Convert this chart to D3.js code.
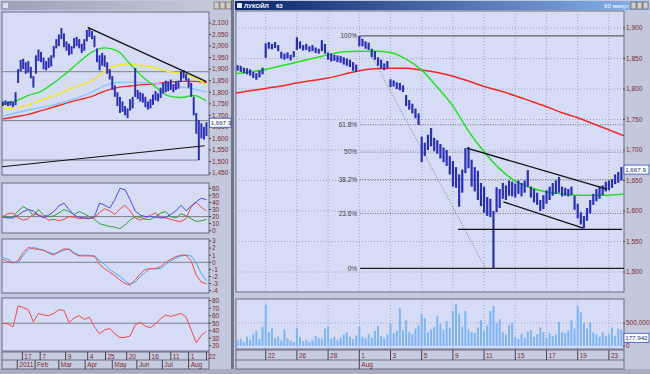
<!DOCTYPE html>
<html>
<head>
<meta charset="utf-8">
<script src="https://cdn.jsdelivr.net/npm/d3@7"></script>
<style>
body { margin: 0; background: #c4c8dc; }
svg { display: block; font-family: "Liberation Sans", Arial, sans-serif; }
.lbl { font-size: 6.5px; fill: #7a2a2a; }
.fib { font-size: 6.5px; fill: #404040; }
</style>
</head>
<body>
<script>
// ---------- right chart (60 min, 5 bars per trading day, day 0 = 22 Jul) ----------
var rHigh = [1839,1838,1835,1834,1832,1828,1826,1830,1835,
  1875,1877,1874,1877,1872,1861,1858,1860,1856,1862,
  1885,1878,1872,1874,1870,1872,1868,1866,1880,1874,
  1860,1858,1856,1855,1854,1852,1850,1848,1844,1840,
  1887,1882,1878,1876,1866,1862,1852,1848,1842,1846,
  1816,1814,1811,1810,1806,1790,1782,1776,1768,1760,
  1722,1712,1725,1736,1720,1716,1710,1704,1700,1690,
  1682,1672,1660,1668,1703,1705,1684,1672,1666,1646,
  1640,1623,1620,1600,1639,1636,1646,1642,1650,1648,
  1645,1650,1646,1650,1667,1640,1636,1630,1618,1626,
  1634,1640,1646,1650,1656,1640,1638,1636,1640,1625,
  1612,1598,1592,1605,1618,1628,1636,1640,1642,1648,
  1650,1652,1660,1664,1672];
var rLow = [1830,1828,1826,1824,1822,1818,1815,1819,1824,
  1851,1866,1865,1867,1862,1850,1848,1850,1847,1852,
  1864,1866,1863,1864,1861,1862,1859,1858,1862,1858,
  1848,1845,1846,1844,1843,1840,1838,1836,1830,1828,
  1870,1870,1866,1864,1852,1848,1838,1834,1831,1834,
  1803,1804,1800,1798,1795,1772,1766,1760,1752,1741,
  1680,1690,1700,1706,1698,1694,1686,1680,1674,1660,
  1640,1638,1607,1630,1662,1670,1640,1632,1618,1608,
  1597,1592,1590,1506,1598,1605,1620,1618,1625,1624,
  1622,1628,1624,1630,1640,1622,1614,1610,1600,1603,
  1612,1618,1625,1628,1630,1624,1625,1624,1626,1602,
  1588,1578,1572,1584,1596,1610,1616,1620,1626,1632,
  1634,1638,1644,1646,1650];
// volume, thousands of shares
var rVolume = [120,160,90,200,140,260,330,150,420,900,
  300,380,180,210,120,360,170,120,90,390,
  200,110,140,90,130,220,170,160,380,420,
  160,200,130,180,250,300,200,150,230,430,
  200,170,260,180,330,430,220,170,250,500,
  280,330,820,350,560,300,260,380,450,690,
  600,300,360,420,650,480,350,540,400,760,
  910,700,420,760,360,300,280,400,560,330,
  450,760,870,500,580,300,250,450,500,200,
  150,260,180,310,350,200,260,400,300,180,
  280,220,250,520,300,280,340,560,380,870,
  730,500,380,520,300,250,200,300,220,260,
  400,220,380,360];
// moving averages, one value per trading day from day -2 to day 23
var rMaGreen = [1825,1828,1832,1838,1844,1850,1856,1861,1862,1862,1860,1849,1831,
  1803,1772,1731,1697,1669,1649,1638,1631,1628,1626,1626,1626,1628];
var rMaRed = [1793,1797,1801,1805,1810,1814,1818,1824,1830,1833,1834,1834,1831,
  1827,1821,1813,1804,1797,1789,1780,1771,1761,1753,1743,1733,1723];
var rTickDays = [0,2,4,6,8,10,12,14,16,18,20,22];
var rTickLabels = ["22","26","28","1","3","5","9","11","15","17","19","23"];
var rMonthDays = [6];
var rMonthLabels = ["Aug"];
var fibPct = [100, 61.8, 50, 38.2, 23.6, 0];
var fibTop = 1887, fibBottom = 1506;
var rTrendLines = [
  [[12.9, 1703], [21.88, 1636]],
  [[15.23, 1615], [20.36, 1572]],
  [[12.33, 1570], [22.84, 1570]]
];
var rFibDiagonal = [[6.1, 1887], [14.1, 1506]];
var lastPrice = 1667.9;
var lastVolume = 177942;

// ---------- left chart (daily, one bar every 3 days from 25 Dec 2010) ----------
var lHigh = [1760,1765,1760,1762,1758,1800,1900,1940,1945,1930,
  1935,1910,1870,1960,1985,1975,1950,1935,1950,1960,
  2000,2030,2050,2078,2055,2020,2010,2000,2035,2040,
  2030,2010,2030,2070,2078,2065,2045,1990,1960,1970,
  1960,1930,1900,1870,1830,1800,1780,1760,1740,1730,
  1770,1780,1905,1810,1800,1795,1780,1760,1770,1790,
  1805,1795,1820,1840,1850,1845,1855,1835,1845,1850,
  1890,1896,1880,1860,1840,1780,1710,1680,1665,1650,
  1670];
var lLow = [1740,1744,1740,1742,1736,1744,1840,1890,1900,1880,
  1885,1860,1820,1880,1935,1930,1900,1895,1905,1912,
  1950,1990,2000,2030,1995,1980,1960,1965,1990,2000,
  1990,1970,1980,2020,2040,2030,1995,1930,1895,1915,
  1910,1880,1855,1810,1780,1740,1710,1715,1700,1688,
  1720,1730,1780,1770,1760,1755,1735,1725,1730,1745,
  1765,1760,1775,1795,1800,1805,1810,1800,1810,1815,
  1845,1860,1850,1820,1780,1700,1620,1506,1600,1595,
  1610];
// moving averages every 15 days
var lMaGreen  = [1749,1762,1786,1804,1840,1883,1931,1974,1992,1979,1922,1866,1823,1784,1777,1786,1762];
var lMaYellow = [1727,1734,1745,1766,1784,1808,1829,1849,1890,1917,1922,1916,1905,1890,1881,1866,1831];
var lMaBlue   = [1697,1710,1723,1734,1745,1760,1779,1800,1829,1842,1844,1841,1838,1832,1824,1814,1801];
var lMaRed    = [1684,1694,1704,1720,1736,1753,1768,1782,1805,1820,1827,1833,1837,1844,1847,1847,1842];
// indicators every 6 days
var diPlus  = [19,18,18,22,27,30,28,22,18,22,27,35,39,30,22,19,18,17,20,39,
  36,32,44,60,58,44,28,22,20,20,19,18,19,23,28,36,28,35,41,46,44];
var diMinus = [20,24,25,18,15,17,24,22,20,15,16,14,16,20,19,17,18,18,18,26,
  31,28,23,31,36,28,18,15,18,22,25,19,18,16,14,13,17,34,40,33,28];
var adx     = [20,19,20,28,34,30,21,30,22,20,21,25,30,27,23,27,24,20,16,10,
  8,6,5,3,8,15,20,19,16,16,20,25,27,20,18,24,21,17,13,14,16];
var macd    = [0.4,0.1,-0.1,0.2,1.4,2.1,1.9,1.8,1.7,1.3,1.0,1.5,1.9,1.8,1.2,0.9,0.9,0.9,0.9,-0.3,
  -0.9,-1.4,-1.9,-2.5,-3.0,-3.2,-2.5,-1.6,-1.0,-0.9,-0.9,-0.6,0.0,0.4,0.8,1.0,1.0,0.2,-1.8,-2.8,-3.0];
var macdSignal = [0.7,0.4,0.0,-0.1,1.0,1.8,2.1,1.9,1.7,1.4,1.2,1.4,1.7,1.9,1.4,1.0,1.0,1.0,0.8,0.3,
  -0.3,-1.0,-1.5,-2.0,-2.6,-3.1,-2.8,-2.0,-1.4,-0.9,-0.9,-0.9,-0.3,0.2,0.6,0.9,1.0,0.9,-0.1,-1.6,-2.6];
var rsi     = [50,49,45,73,71,68,52,63,61,60,63,68,67,51,57,60,55,58,45,36,
  41,43,36,31,31,33,48,51,46,44,49,56,61,59,61,63,58,41,24,34,39];
var lDayTicks = ["2011-01-17","2011-02-07","2011-03-09","2011-04-04","2011-04-25",
  "2011-05-20","2011-06-16","2011-07-11","2011-08-01","2011-08-22"];
var lDayLabels = ["17","7","9","4","25","20","16","11","1","22"];
var lMonthTicks = ["2011-01-11","2011-02-01","2011-03-01","2011-04-01","2011-05-03",
  "2011-06-01","2011-07-01","2011-08-01"];
var lMonthLabels = ["2011","Feb","Mar","Apr","May","Jun","Jul","Aug"];
var lTrendLines = [
  [["2011-04-04", 2081], ["2011-08-22", 1846]],
  [["2010-12-24", 1477], ["2011-08-20", 1568]]
];
var lLevels = [[1889, "2010-12-24", "2011-08-25"], [1677, "2010-12-24", "2011-08-25"],
  [1506, "2010-12-24", "2011-08-13"]];

// ---------- setup ----------
var parse = d3.timeParse("%Y-%m-%d");
var lStart = new Date(2010, 11, 25);
var fmt = d3.format(",");

var svg = d3.select("body").append("svg")
            .attr("width", 650)
            .attr("height", 374);

var paneFill = "#d6dcf6";
var frameCol = "#6a6a80";

// windows chrome
svg.append("rect").attr("x", 0).attr("y", 0).attr("width", 650).attr("height", 374).attr("fill", "#c4c8dc");
svg.append("rect").attr("x", 231).attr("y", 0).attr("width", 3).attr("height", 374).attr("fill", "#70748c");
svg.append("rect").attr("x", 0).attr("y", 369).attr("width", 650).attr("height", 5).attr("fill", "#a8acc0");

var defs = svg.append("defs");
var grad = defs.append("linearGradient").attr("id", "titleGrad");
grad.append("stop").attr("offset", "0%").attr("stop-color", "#0a246a");
grad.append("stop").attr("offset", "100%").attr("stop-color", "#8ab4ec");
var grad2 = defs.append("linearGradient").attr("id", "titleGrey");
grad2.append("stop").attr("offset", "0%").attr("stop-color", "#9ca0b8");
grad2.append("stop").attr("offset", "100%").attr("stop-color", "#c8ccdc");

svg.append("rect").attr("x", 1).attr("y", 1).attr("width", 229).attr("height", 9).attr("fill", "url(#titleGrey)");
svg.append("rect").attr("x", 235).attr("y", 1).attr("width", 414).attr("height", 9).attr("fill", "url(#titleGrad)");
svg.append("rect").attr("x", 3).attr("y", 3).attr("width", 5).attr("height", 5).attr("fill", "#e0e0e8");
svg.append("rect").attr("x", 237).attr("y", 3).attr("width", 5).attr("height", 5).attr("fill", "#e8e8f0");
svg.append("text").attr("x", 244).attr("y", 8).attr("font-size", "6px").attr("font-weight", "bold")
   .attr("fill", "#ffffff").text("ЛУКОЙЛ");
svg.append("text").attr("x", 276).attr("y", 8).attr("font-size", "6px").attr("font-weight", "bold")
   .attr("fill", "#ffffff").text("63");
svg.append("text").attr("x", 629).attr("y", 8).attr("font-size", "6px").attr("text-anchor", "end")
   .attr("fill", "#ffffff").text("60 минут");
[214, 220, 226, 631, 637, 643].forEach(function(bx) {
  svg.append("rect").attr("x", bx).attr("y", 2).attr("width", 5).attr("height", 7)
     .attr("fill", "#d4d0c8").attr("stroke", "#404040").attr("stroke-width", 0.5);
});

function pane(x, y, w, h, id) {
  svg.append("rect").attr("x", x).attr("y", y).attr("width", w).attr("height", h)
     .attr("fill", paneFill).attr("stroke", frameCol).attr("stroke-width", 1);
  defs.append("clipPath").attr("id", id)
      .append("rect").attr("x", x).attr("y", y).attr("width", w).attr("height", h);
  return svg.append("g").attr("clip-path", "url(#" + id + ")");
}

function axisLabels(scale, values, x, format) {
  values.forEach(function(v) {
    svg.append("line").attr("x1", x - 3).attr("x2", x - 1)
       .attr("y1", scale(v)).attr("y2", scale(v)).attr("stroke", "#404050");
    svg.append("text").attr("class", "lbl").attr("x", x).attr("y", scale(v) + 2.3)
       .text(format ? format(v) : v);
  });
}

function valueBox(x, y, w, text) {
  svg.append("rect").attr("x", x).attr("y", y - 4.5).attr("width", w).attr("height", 9)
     .attr("fill", "#ffffff").attr("stroke", "#3050c0").attr("stroke-width", 0.8);
  svg.append("text").attr("x", x + 1.2).attr("y", y + 2.3).attr("font-size", "6.2px")
     .attr("fill", "#203080").text(text);
}

var line = d3.line().x(d => d[0]).y(d => d[1]);

// ================= RIGHT WINDOW =================
var xR = d3.scaleLinear().domain([-1.84, 22.84]).range([237, 622]);
var yR = d3.scaleLinear().domain([1500, 1900]).range([272, 28]);
var yV = d3.scaleLinear().domain([0, 500000]).range([346, 323]);

var rMain = pane(236, 11, 388, 281, "clipRmain");

// grid
rTickDays.forEach(function(d) {
  rMain.append("line").attr("x1", xR(d)).attr("x2", xR(d)).attr("y1", 11).attr("y2", 292)
       .attr("stroke", "#9ea4c4").attr("stroke-dasharray", "1,2");
});
d3.range(1500, 1901, 50).forEach(function(p) {
  rMain.append("line").attr("x1", 236).attr("x2", 624).attr("y1", yR(p)).attr("y2", yR(p))
       .attr("stroke", "#9ea4c4").attr("stroke-dasharray", "1,2");
});

// fibonacci levels
var fibStart = 6.05;
fibPct.forEach(function(f) {
  var p = fibBottom + (fibTop - fibBottom) * f / 100;
  var solid = (f === 100 || f === 0);
  rMain.append("line").attr("x1", xR(fibStart)).attr("x2", 624)
       .attr("y1", yR(p)).attr("y2", yR(p))
       .attr("stroke", solid ? (f === 0 ? "#202020" : "#606060") : "#707070")
       .attr("stroke-width", solid ? 1.3 : 1)
       .attr("stroke-dasharray", solid ? null : "1,1.5");
  svg.append("text").attr("class", "fib").attr("text-anchor", "end")
     .attr("x", xR(fibStart) - 3).attr("y", yR(p) + 2.3)
     .text((f === 100 || f === 50 || f === 0 ? f : f.toFixed(1)) + "%");
});
rMain.append("path")
     .attr("d", line(rFibDiagonal.map(d => [xR(d[0]), yR(d[1])])))
     .attr("stroke", "#808080").attr("stroke-dasharray", "1,1.5").attr("fill", "none");

// moving averages
rMain.append("path")
     .attr("d", d3.line().curve(d3.curveMonotoneX)(rMaRed.map((v, j) => [xR(j - 2), yR(v)])))
     .attr("stroke", "#f02828").attr("stroke-width", 1.5).attr("fill", "none");
rMain.append("path")
     .attr("d", d3.line().curve(d3.curveMonotoneX)(rMaGreen.map((v, j) => [xR(j - 2), yR(v)])))
     .attr("stroke", "#22e022").attr("stroke-width", 1.5).attr("fill", "none");

// price bars
rMain.selectAll("line.bar")
     .data(rHigh)
     .enter()
     .append("line")
     .attr("x1", (d, i) => xR(-1.8 + 0.2 * i))
     .attr("x2", (d, i) => xR(-1.8 + 0.2 * i))
     .attr("y1", d => yR(d))
     .attr("y2", (d, i) => yR(rLow[i]))
     .attr("stroke", "#2b2fb8")
     .attr("stroke-width", 2.2);

// trend lines
rTrendLines.forEach(function(t) {
  rMain.append("path").attr("d", line(t.map(d => [xR(d[0]), yR(d[1])])))
       .attr("stroke", "#101010").attr("stroke-width", 1.3).attr("fill", "none");
});

axisLabels(yR, d3.range(1500, 1901, 50), 626, fmt);
valueBox(624, yR(lastPrice), 25, d3.format(",.1f")(lastPrice));

// volume pane
var rVol = pane(236, 299, 388, 50, "clipRvol");
rTickDays.forEach(function(d) {
  rVol.append("line").attr("x1", xR(d)).attr("x2", xR(d)).attr("y1", 299).attr("y2", 349)
      .attr("stroke", "#9ea4c4").attr("stroke-dasharray", "1,2");
});
rVol.append("line").attr("x1", 236).attr("x2", 624).attr("y1", yV(500000)).attr("y2", yV(500000))
    .attr("stroke", "#9ea4c4").attr("stroke-dasharray", "1,2");
rVol.selectAll("line.vol")
    .data(rVolume)
    .enter()
    .append("line")
    .attr("x1", (d, i) => xR(-1.8 + 0.2 * i))
    .attr("x2", (d, i) => xR(-1.8 + 0.2 * i))
    .attr("y1", yV(0))
    .attr("y2", d => yV(d * 1000))
    .attr("stroke", "#7cb4f6")
    .attr("stroke-width", 2);
axisLabels(yV, [0, 500000], 626, fmt);
valueBox(624, yV(lastVolume), 25, fmt(lastVolume));

// right date axis
svg.append("rect").attr("x", 236).attr("y", 350).attr("width", 388).attr("height", 19)
   .attr("fill", "#c8cce0").attr("stroke", frameCol);
svg.append("line").attr("x1", 236).attr("x2", 624).attr("y1", 360).attr("y2", 360).attr("stroke", frameCol);
rTickDays.forEach(function(d, i) {
  svg.append("line").attr("x1", xR(d)).attr("x2", xR(d)).attr("y1", 350).attr("y2", 360).attr("stroke", "#404050");
  svg.append("text").attr("class", "lbl").attr("x", xR(d) + 2).attr("y", 358).text(rTickLabels[i]);
});
rMonthDays.forEach(function(d, i) {
  svg.append("line").attr("x1", xR(d)).attr("x2", xR(d)).attr("y1", 360).attr("y2", 369).attr("stroke", "#404050");
  svg.append("text").attr("class", "lbl").attr("x", xR(d) + 2).attr("y", 367).text(rMonthLabels[i]);
});

// ================= LEFT WINDOW =================
var xL = d3.scaleTime().domain([new Date(2010, 11, 24), new Date(2011, 7, 25)]).range([2, 209]);
var yL = d3.scaleLinear().domain([1450, 2100]).range([173, 23]);
var yDI = d3.scaleLinear().domain([0, 60]).range([230.7, 188.3]);
var yM = d3.scaleLinear().domain([-4, 3]).range([290.7, 241]);
var yRSI = d3.scaleLinear().domain([20, 80]).range([345.7, 300.7]);

var lMain = pane(2, 12, 207, 163, "clipLmain");

lLevels.forEach(function(l) {
  lMain.append("line").attr("x1", xL(parse(l[1]))).attr("x2", xL(parse(l[2])))
       .attr("y1", yL(l[0])).attr("y2", yL(l[0]))
       .attr("stroke", "#808088").attr("stroke-width", 1);
});

var maDate = j => d3.timeDay.offset(lStart, 15 * j);
[[lMaRed, "#f02828"], [lMaBlue, "#8cc4ff"], [lMaYellow, "#f4e81c"], [lMaGreen, "#22e022"]].forEach(function(m) {
  lMain.append("path")
       .attr("d", d3.line().curve(d3.curveMonotoneX)(m[0].map((v, j) => [xL(maDate(j)), yL(v)])))
       .attr("stroke", m[1]).attr("stroke-width", 1.4).attr("fill", "none");
});

lMain.selectAll("line.bar")
     .data(lHigh)
     .enter()
     .append("line")
     .attr("x1", (d, i) => xL(d3.timeDay.offset(lStart, 3 * i)))
     .attr("x2", (d, i) => xL(d3.timeDay.offset(lStart, 3 * i)))
     .attr("y1", d => yL(d))
     .attr("y2", (d, i) => yL(lLow[i]))
     .attr("stroke", "#2b2fb8")
     .attr("stroke-width", 2);

lTrendLines.forEach(function(t) {
  lMain.append("path").attr("d", line(t.map(d => [xL(parse(d[0])), yL(d[1])])))
       .attr("stroke", "#101010").attr("stroke-width", 1.2).attr("fill", "none");
});

axisLabels(yL, d3.range(1450, 2101, 50), 212, fmt);
valueBox(209.5, yL(lastPrice), 21.5, d3.format(",.1f")(lastPrice));

var subDate = k => d3.timeDay.offset(lStart, 6 * k);
function subLine(g, values, scale, color) {
  g.append("path")
   .attr("d", line(values.map((v, k) => [xL(subDate(k)), scale(v)])))
   .attr("stroke", color).attr("stroke-width", 1).attr("fill", "none");
}

// DMI pane
var lDmi = pane(2, 183, 207, 50, "clipLdmi");
lDmi.append("line").attr("x1", 2).attr("x2", 209).attr("y1", yDI(20)).attr("y2", yDI(20)).attr("stroke", "#808088");
subLine(lDmi, adx, yDI, "#30a030");
subLine(lDmi, diMinus, yDI, "#f04848");
subLine(lDmi, diPlus, yDI, "#4848f0");
axisLabels(yDI, [0, 10, 20, 30, 40, 50, 60], 212);

// MACD pane
var lMacd = pane(2, 239, 207, 54, "clipLmacd");
lMacd.append("line").attr("x1", 2).attr("x2", 209).attr("y1", yM(0)).attr("y2", yM(0)).attr("stroke", "#808088");
subLine(lMacd, macdSignal, yM, "#40aaff");
subLine(lMacd, macd, yM, "#f04848");
axisLabels(yM, [-4, -3, -2, -1, 0, 1, 2, 3], 212);

// RSI pane
var lRsi = pane(2, 298, 207, 53, "clipLrsi");
lRsi.append("line").attr("x1", 2).attr("x2", 209).attr("y1", yRSI(50)).attr("y2", yRSI(50)).attr("stroke", "#808088");
subLine(lRsi, rsi, yRSI, "#f04848");
axisLabels(yRSI, [20, 30, 40, 50, 60, 70, 80], 212);

// left date axis
svg.append("rect").attr("x", 2).attr("y", 352).attr("width", 207).attr("height", 17)
   .attr("fill", "#c8cce0").attr("stroke", frameCol);
svg.append("line").attr("x1", 2).attr("x2", 209).attr("y1", 360).attr("y2", 360).attr("stroke", frameCol);
lDayTicks.forEach(function(d, i) {
  var x = xL(parse(d));
  svg.append("line").attr("x1", x).attr("x2", x).attr("y1", 352).attr("y2", 360).attr("stroke", "#404050");
  svg.append("text").attr("class", "lbl").attr("x", x + 2).attr("y", 358.5).text(lDayLabels[i]);
});
lMonthTicks.forEach(function(d, i) {
  var x = xL(parse(d));
  svg.append("line").attr("x1", x).attr("x2", x).attr("y1", 360).attr("y2", 369).attr("stroke", "#404050");
  svg.append("text").attr("class", "lbl").attr("x", x + 2).attr("y", 367).text(lMonthLabels[i]);
});
</script>
</body>
</html>
